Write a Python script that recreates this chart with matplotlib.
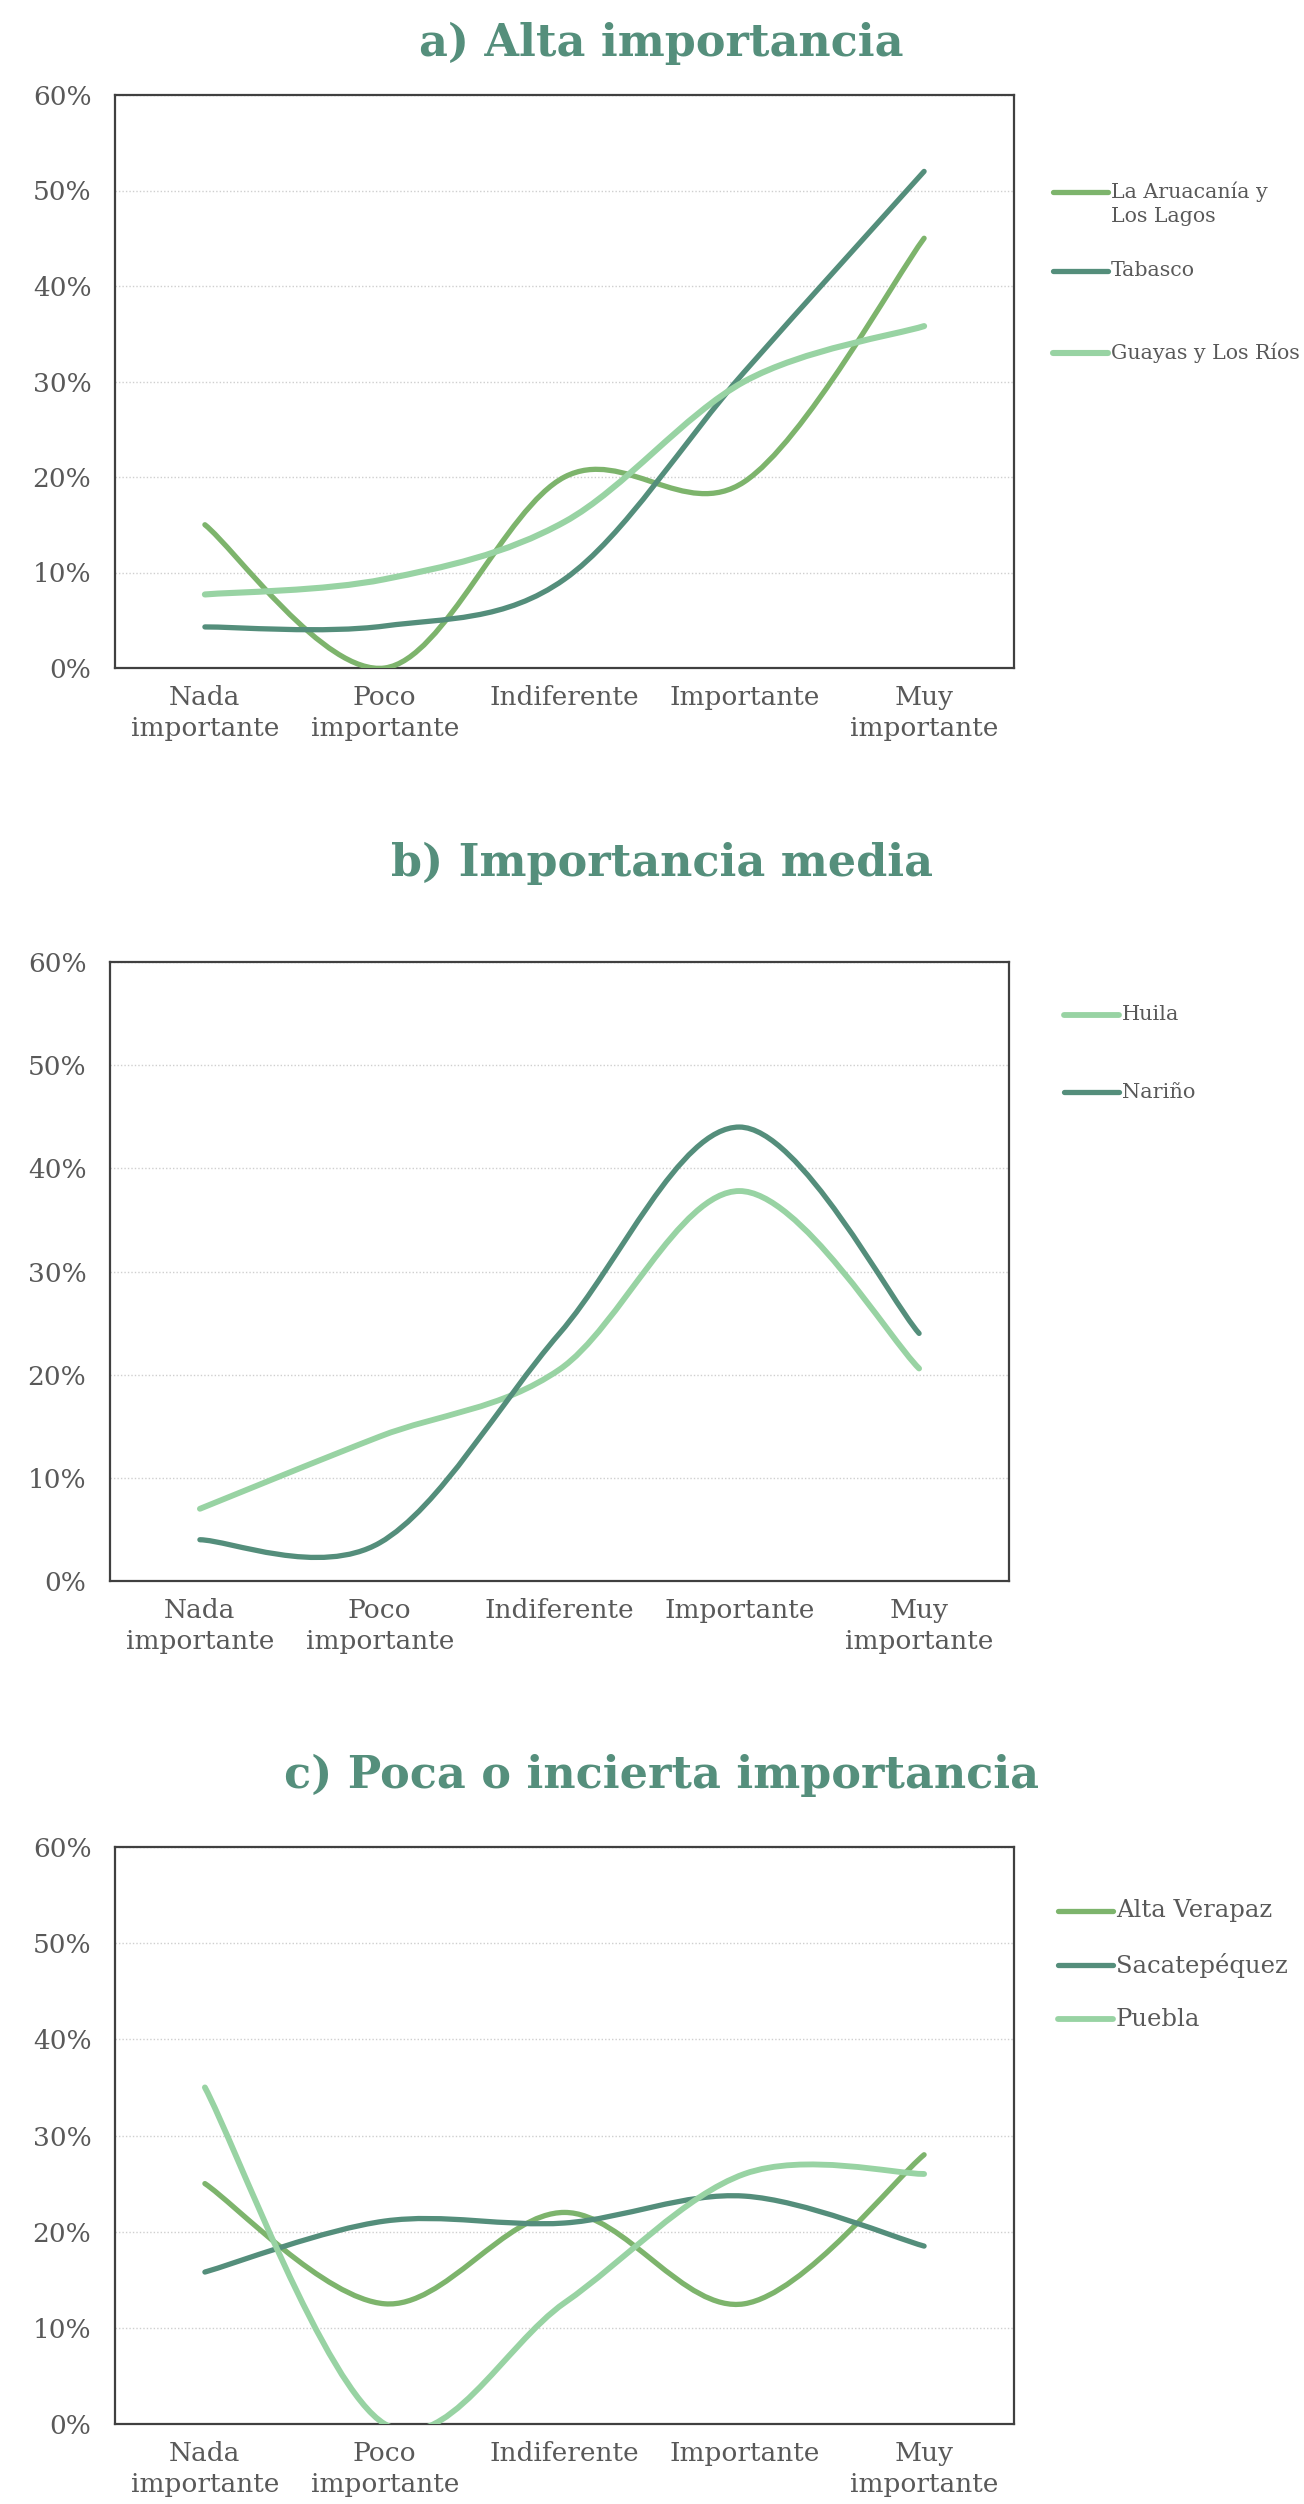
import numpy as np
import matplotlib.pyplot as plt
from matplotlib.path import Path
from matplotlib.patches import PathPatch
from matplotlib.lines import Line2D
from matplotlib.ticker import PercentFormatter

plt.rcParams['font.family'] = ['DejaVu Serif']

##------DATA-----------------------------------------------------------
categorias = ['Nada\nimportante', 'Poco\nimportante', 'Indiferente', 'Importante', 'Muy\nimportante']

# a) Alta importancia
araucania = [0.15, 0.0, 0.20, 0.195, 0.45]
tabasco = [0.043, 0.044, 0.093, 0.31, 0.52]
guayas = [0.077, 0.093, 0.153, 0.30, 0.358]

# b) Importancia media
huila = [0.07, 0.14, 0.205, 0.378, 0.206]
narino = [0.04, 0.037, 0.24, 0.44, 0.24]

# c) Poca o incierta importancia
alta_verapaz = [0.25, 0.125, 0.22, 0.125, 0.28]
sacatepequez = [0.158, 0.211, 0.209, 0.237, 0.185]
puebla = [0.35, 0.0, 0.126, 0.26, 0.26]

##------STYLE----------------------------------------------------------
VERDE = '#7DB46C'
OSCURO = '#548E7B'
CLARO = '#98D3A3'
TEXTO = '#595959'
TITULO = '#558F7C'

W, H = 1304, 2504


def smooth_line(ax, y, color, lw):
    # excel-like smoothed line: bezier segments through the data points
    x = np.arange(len(y), dtype=float)
    y = np.asarray(y, dtype=float)
    pts = np.column_stack([x, y])
    ext = np.vstack([pts[0], pts, pts[-1]])
    verts = [pts[0]]
    codes = [Path.MOVETO]
    for i in range(len(pts) - 1):
        p0, p1, p2, p3 = ext[i], ext[i + 1], ext[i + 2], ext[i + 3]
        c1 = p1 + (p2 - p0) / 6.0
        c2 = p2 - (p3 - p1) / 6.0
        verts += [c1, c2, p2]
        codes += [Path.CURVE4] * 3
    patch = PathPatch(Path(verts, codes), facecolor='none', edgecolor=color,
                      lw=lw, capstyle='round', joinstyle='round', zorder=3)
    ax.add_patch(patch)
    return patch


def px_axes(fig, left, top, right, bottom):
    return fig.add_axes([left / W, 1 - bottom / H, (right - left) / W, (bottom - top) / H])


def setup(ax):
    ax.set_xlim(-0.5, 4.5)
    ax.set_ylim(0, 0.6)
    ax.set_yticks(np.arange(0, 0.61, 0.1))
    ax.yaxis.set_major_formatter(PercentFormatter(1.0, decimals=0))
    ax.set_xticks(range(len(categorias)))
    ax.set_xticklabels(categorias, linespacing=1.3)
    ax.tick_params(length=0, labelsize=19, colors=TEXTO)
    ax.tick_params(axis='y', pad=17)
    ax.tick_params(axis='x', pad=12)
    for s in ax.spines.values():
        s.set_color('#404040')
        s.set_linewidth(1.6)
    ax.grid(axis='y', color='#CFCFCF', linestyle=(0, (1, 1.5)), linewidth=1.0)
    ax.set_axisbelow(True)


def legend(fig, items, x0, ys, size):
    for (label, color, lw), y in zip(items, ys):
        multi = '\n' in label
        ky = y + 11 if multi else y
        fig.add_artist(Line2D([x0 / W, (x0 + 55) / W], [1 - ky / H, 1 - ky / H],
                              color=color, lw=lw, solid_capstyle='round'))
        fig.text((x0 + 58) / W, 1 - y / H, label, fontsize=size, color=TEXTO,
                 va='top' if multi else 'center', ha='left', linespacing=1.35)


fig = plt.figure(figsize=(W / 100, H / 100), dpi=100)

##------PANEL A--------------------------------------------------------
ax1 = px_axes(fig, 115, 95, 1014, 668)
setup(ax1)
smooth_line(ax1, araucania, VERDE, 3.8)
smooth_line(ax1, tabasco, OSCURO, 3.8)
smooth_line(ax1, guayas, CLARO, 4.4)
fig.text(661 / W, 1 - 43 / H, 'a) Alta importancia', fontsize=32, fontweight='bold',
         color=TITULO, ha='center', va='center')
legend(fig, [('La Aruacanía y\nLos Lagos', VERDE, 3.8)], 1053, [181], 14.8)
legend(fig, [('Tabasco', OSCURO, 3.8), ('Guayas y Los Ríos', CLARO, 4.4)], 1053, [271, 353], 14.8)

##------PANEL B--------------------------------------------------------
ax2 = px_axes(fig, 110, 962, 1009, 1581)
setup(ax2)
smooth_line(ax2, huila, CLARO, 4.2)
smooth_line(ax2, narino, OSCURO, 3.8)
fig.text(662 / W, 1 - 863 / H, 'b) Importancia media', fontsize=32, fontweight='bold',
         color=TITULO, ha='center', va='center')
legend(fig, [('Huila', CLARO, 4.2), ('Nariño', OSCURO, 3.8)], 1064, [1015, 1092], 15)

##------PANEL C--------------------------------------------------------
ax3 = px_axes(fig, 115, 1847, 1014, 2424)
setup(ax3)
smooth_line(ax3, alta_verapaz, VERDE, 3.8)
smooth_line(ax3, sacatepequez, OSCURO, 3.8)
smooth_line(ax3, puebla, CLARO, 4.2)
fig.text(661 / W, 1 - 1775 / H, 'c) Poca o incierta importancia', fontsize=32, fontweight='bold',
         color=TITULO, ha='center', va='center')
legend(fig, [('Alta Verapaz', VERDE, 3.8), ('Sacatepéquez', OSCURO, 3.8), ('Puebla', CLARO, 4.2)],
       1058, [1911, 1965, 2019], 17.5)

fig.savefig('out.png', dpi=100, facecolor='white')
